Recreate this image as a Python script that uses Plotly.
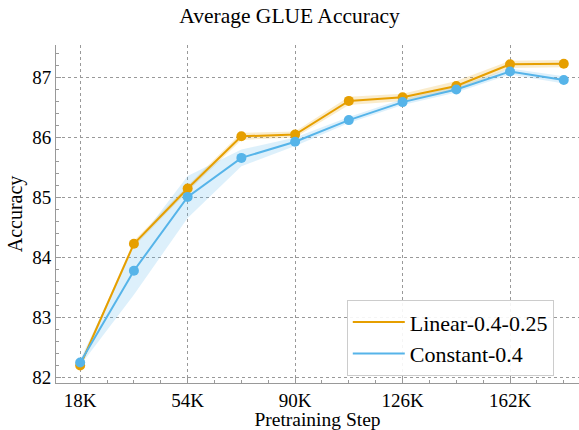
import plotly.graph_objects as go

# Шаги предобучения (тыс.)
steps = [18, 36, 54, 72, 90, 108, 126, 144, 162, 180]
tick_vals = [18, 54, 90, 126, 162]
tick_text = ["18K", "54K", "90K", "126K", "162K"]

# Linear-0.4-0.25
linear_mean = [82.20, 84.23, 85.15, 86.02, 86.05, 86.61, 86.67, 86.86, 87.22, 87.23]
linear_std = [0.03, 0.05, 0.05, 0.06, 0.05, 0.07, 0.06, 0.08, 0.06, 0.06]

# Constant-0.4
const_mean = [82.25, 83.78, 85.01, 85.66, 85.93, 86.29, 86.59, 86.80, 87.10, 86.96]
const_std = [0.05, 0.40, 0.35, 0.14, 0.07, 0.05, 0.05, 0.05, 0.05, 0.06]

series = [
    ("Linear-0.4-0.25", linear_mean, linear_std, "#E69F00", "rgba(230,159,0,0.2)"),
    ("Constant-0.4", const_mean, const_std, "#56B4E9", "rgba(86,180,233,0.2)"),
]

FONT = "Liberation Serif"

fig = go.Figure()

# Полосы разброса
for name, mean, std, color, fill in series:
    upper = [m + s for m, s in zip(mean, std)]
    lower = [m - s for m, s in zip(mean, std)]
    fig.add_trace(go.Scatter(x=steps, y=upper, mode="lines", line=dict(width=0),
                             showlegend=False, hoverinfo="skip"))
    fig.add_trace(go.Scatter(x=steps, y=lower, mode="lines", line=dict(width=0),
                             fill="tonexty", fillcolor=fill,
                             showlegend=False, hoverinfo="skip"))

# Средние значения
for name, mean, std, color, fill in series:
    fig.add_trace(go.Scatter(
        x=steps, y=mean, mode="lines+markers", name=name, legendgroup=name,
        line=dict(color=color, width=2),
        marker=dict(color=color, size=10),
        showlegend=False,
    ))

# Легенда только с линиями
for name, mean, std, color, fill in series:
    fig.add_trace(go.Scatter(
        x=[None], y=[None], mode="lines", name=name, legendgroup=name,
        line=dict(color=color, width=2),
    ))

axis_common = dict(
    showline=True, linecolor="#999999", linewidth=1,
    ticks="inside", ticklen=5, tickcolor="#999999",
    showgrid=True, gridcolor="#999999", griddash="dot", gridwidth=1,
    zeroline=False, mirror=False, automargin=False,
    tickfont=dict(family=FONT, size=19, color="black"),
)

fig.update_xaxes(
    **axis_common,
    range=[9.9, 185.1],
    tickvals=tick_vals, ticktext=tick_text,
    minor=dict(dtick=9, tick0=0, ticks="inside", ticklen=3, tickcolor="#999999", showgrid=False),
    title=dict(text="Pretraining Step", font=dict(family=FONT, size=19.5, color="black"), standoff=0),
)
fig.update_yaxes(
    **axis_common,
    range=[81.908, 87.542],
    dtick=1, tick0=82,
    minor=dict(dtick=0.2, tick0=82, ticks="inside", ticklen=3, tickcolor="#999999", showgrid=False),
    title=dict(text="Accuracy", font=dict(family=FONT, size=20, color="black"), standoff=4),
)

fig.update_layout(
    width=579, height=430,
    margin=dict(l=56, r=0, t=45, b=47),
    paper_bgcolor="white", plot_bgcolor="white",
    font=dict(family=FONT, color="black"),
    title=dict(text="Average GLUE Accuracy", x=0.5, xanchor="center", y=0.965,
               yanchor="middle", font=dict(family=FONT, size=21.5, color="black")),
    legend=dict(x=0.556, y=0.245, xanchor="left", yanchor="top", traceorder="normal",
                bordercolor="#cccccc", borderwidth=1, bgcolor="rgba(255,255,255,0.9)",
                font=dict(family=FONT, size=22, color="black"), itemwidth=52),
)

fig.write_html("out.html", post_script="document.body.style.margin='0';",
               config={"displayModeBar": False})
